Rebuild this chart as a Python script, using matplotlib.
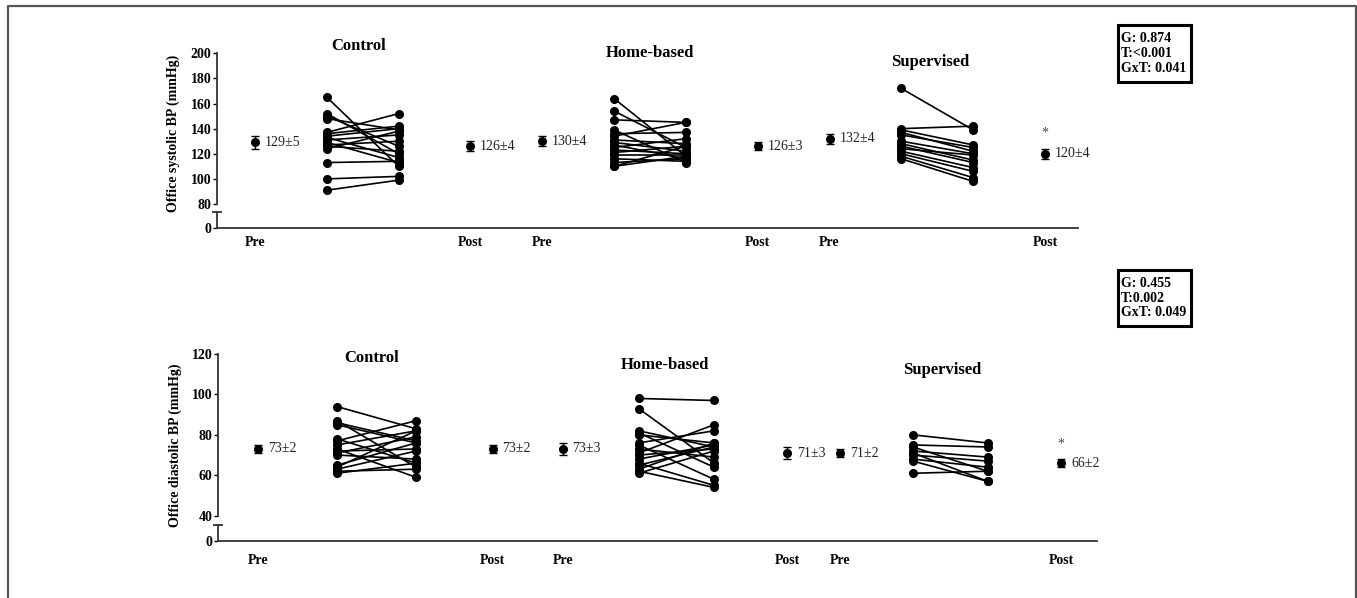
import matplotlib.pyplot as plt
from matplotlib.lines import Line2D

plt.rcParams['font.family'] = ['Liberation Serif', 'DejaVu Serif']

groups = ['Control', 'Home-based', 'Supervised']

# systolic, individual subjects
sys_pre = {
    'Control': [165, 152, 150, 148, 137, 136, 134, 133, 131, 129, 127, 126, 124, 113, 100, 91],
    'Home-based': [164, 154, 147, 139, 136, 134, 131, 129, 127, 125, 123, 121, 119, 116, 113, 110, 110],
    'Supervised': [172, 140, 139, 137, 135, 130, 128, 126, 124, 122, 120, 118, 116],
}
sys_post = {
    'Control': [110, 120, 126, 139, 152, 142, 140, 117, 135, 113, 130, 122, 138, 114, 102, 99],
    'Home-based': [118, 125, 145, 113, 137, 145, 128, 122, 116, 132, 120, 126, 119, 114, 116, 126, 118],
    'Supervised': [139, 142, 127, 122, 125, 120, 115, 113, 119, 109, 106, 101, 98],
}
sys_mean_pre = [129, 130, 132]
sys_sem_pre = [5, 4, 4]
sys_mean_post = [126, 126, 120]
sys_sem_post = [4, 3, 4]

# diastolic, individual subjects
dia_pre = {
    'Control': [94, 87, 86, 85, 78, 77, 75, 73, 72, 71, 70, 65, 64, 63, 62, 61],
    'Home-based': [98, 93, 82, 81, 80, 76, 75, 73, 71, 70, 68, 66, 65, 63, 62, 61],
    'Supervised': [80, 75, 74, 72, 71, 70, 68, 67, 61],
}
dia_post = {
    'Control': [83, 64, 77, 76, 66, 87, 82, 59, 73, 79, 68, 76, 82, 72, 63, 66],
    'Home-based': [97, 66, 74, 64, 76, 82, 58, 69, 85, 73, 75, 55, 74, 76, 54, 72],
    'Supervised': [76, 74, 62, 69, 57, 67, 64, 57, 62],
}
dia_mean_pre = [73, 73, 71]
dia_sem_pre = [2, 3, 2]
dia_mean_post = [73, 71, 66]
dia_sem_post = [2, 3, 2]

sys_stats = ['G: 0.874', 'T:<0.001', 'GxT: 0.041']
dia_stats = ['G: 0.455', 'T:0.002', 'GxT: 0.049']
significant = [False, False, True]

# x slots: mean pre, subject pre, subject post, mean post for each group
sys_x = [[0, 1, 2, 3], [4, 5, 6, 7], [8, 9, 10, 11]]
dia_x = [[0, 1.04, 2.08, 3.09], [4.01, 5.01, 6.0, 6.96], [7.66, 8.62, 9.6, 10.57]]
sys_title_pos = [(1.44, 206), (5.5, 200), (9.4, 193)]
dia_title_pos = [(1.5, 118), (5.35, 114.5), (9.0, 112)]

W, H = 1357, 598
fig = plt.figure(figsize=(W / 100, H / 100), dpi=100)

# frame round the whole figure (no bottom edge)
fig.add_artist(Line2D([8 / W, 8 / W, 1356 / W, 1356 / W], [0, 1 - 6 / H, 1 - 6 / H, 0],
                      transform=fig.transFigure, color='#555555', lw=1.6))

def px(x0, y0, x1, y1):
    return [x0 / W, 1 - y1 / H, (x1 - x0) / W, (y1 - y0) / H]


def panel(up_rect, low_rect, xlim, ylim, yticks, xs, pre, post, mpre, spre, mpost, spost,
          title_pos, star_y, xpad):
    up = fig.add_axes(up_rect)
    low = fig.add_axes(low_rect)
    for ax in (up, low):
        ax.set_xlim(xlim)
        ax.spines['top'].set_visible(False)
        ax.spines['right'].set_visible(False)
        for s in ax.spines.values():
            s.set_linewidth(1.3)
            s.set_color('#333333')
        ax.patch.set_alpha(0)
    up.spines['bottom'].set_visible(False)
    up.set_xticks([])
    up.set_ylim(ylim)
    up.set_yticks(yticks)
    up.tick_params(axis='y', length=3, width=1, pad=1, labelsize=10)
    for lab in up.get_yticklabels():
        lab.set_fontweight('bold')

    low.set_ylim(0, 1)
    low.set_yticks([0])
    low.set_yticklabels(['0'], fontweight='bold', fontsize=10)
    low.plot([0], [1], marker='_', ms=7, mew=1.3, color='#333333',
             transform=low.get_yaxis_transform(), clip_on=False)
    ticks, labels = [], []
    for g in range(3):
        ticks += [xs[g][0], xs[g][3]]
        labels += ['Pre', 'Post']
    low.set_xticks(ticks)
    low.set_xticklabels(labels, fontweight='bold', fontsize=10)
    low.tick_params(axis='x', length=0, pad=xpad)
    low.tick_params(axis='y', length=3, width=1, pad=1)

    for g, name in enumerate(groups):
        x = xs[g]
        for a, b in zip(pre[name], post[name]):
            up.plot([x[1], x[2]], [a, b], '-o', color='black', lw=1.2, ms=5.5, clip_on=False)
        up.errorbar(x[0], mpre[g], yerr=spre[g], fmt='o', color='black', ms=5.5,
                    capsize=3, elinewidth=1, capthick=1)
        up.errorbar(x[3], mpost[g], yerr=spost[g], fmt='o', color='black', ms=5.5,
                    capsize=3, elinewidth=1, capthick=1)
        up.annotate(f'{mpre[g]}±{spre[g]}', (x[0], mpre[g]), xytext=(7, 0),
                    textcoords='offset points', va='center', fontsize=10, color='#222222')
        up.annotate(f'{mpost[g]}±{spost[g]}', (x[3], mpost[g]), xytext=(7, 0),
                    textcoords='offset points', va='center', fontsize=10, color='#222222')
        if significant[g]:
            up.text(x[3], star_y, '*', ha='center', va='center', fontsize=10, color='#444444')
        up.text(title_pos[g][0], title_pos[g][1], name, ha='center', va='center',
                fontsize=12, fontweight='bold', clip_on=False)
    return up, low


up1, low1 = panel(px(217, 53.3, 1078, 204), px(217, 212, 1078, 228),
                  (-0.53, 11.46), (80, 200), range(80, 201, 20), sys_x,
                  sys_pre, sys_post, sys_mean_pre, sys_sem_pre, sys_mean_post, sys_sem_post,
                  sys_title_pos, 136.5, 6)
up2, low2 = panel(px(218, 354, 1097, 515.7), px(218, 525, 1097, 541),
                  (-0.526, 11.04), (40, 120), range(40, 121, 20), dia_x,
                  dia_pre, dia_post, dia_mean_pre, dia_sem_pre, dia_mean_post, dia_sem_post,
                  dia_title_pos, 75.5, 9)

fig.text(173 / W, 1 - 133 / H, 'Office systolic BP (mmHg)', rotation=90,
         ha='center', va='center', fontsize=10, fontweight='bold')
fig.text(175 / W, 1 - 445 / H, 'Office diastolic BP (mmHg)', rotation=90,
         ha='center', va='center', fontsize=10, fontweight='bold')

# statistics boxes
for lines, (y0, y1) in ((sys_stats, (25, 82)), (dia_stats, (270, 326))):
    fig.add_artist(plt.Rectangle((1118 / W, 1 - y1 / H), 73 / W, (y1 - y0) / H,
                                 transform=fig.transFigure, fill=False, lw=2.2, ec='black'))
    fig.text(1121 / W, 1 - (y0 + y1) / 2 / H, '\n'.join(lines), ha='left', va='center',
             fontsize=10, fontweight='bold', linespacing=1.15)

fig.savefig('out.png', dpi=100)
